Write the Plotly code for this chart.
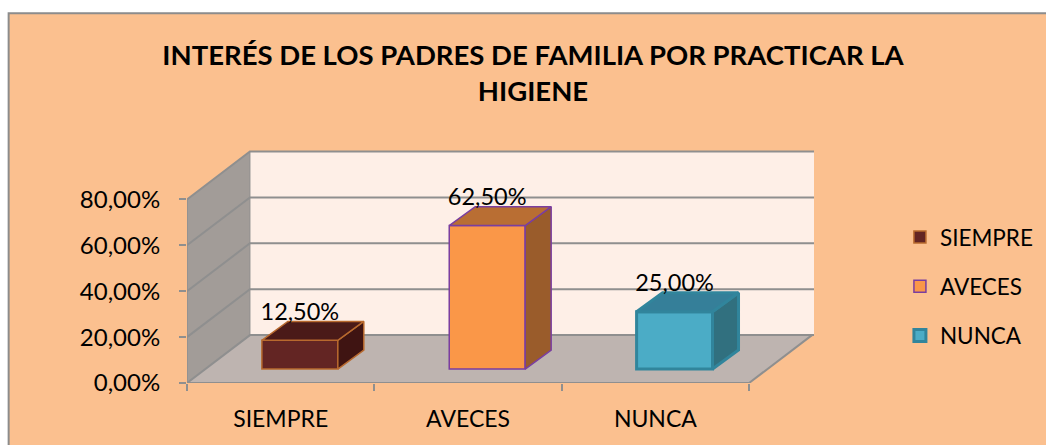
import plotly.graph_objects as go

# ---- data ----
categories = ["SIEMPRE", "AVECES", "NUNCA"]
values = [0.125, 0.625, 0.25]
y_ticks = [0, 0.2, 0.4, 0.6, 0.8]
title_text = "INTERÉS DE LOS PADRES DE FAMILIA POR PRACTICAR LA<br>HIGIENE"

# ---- styling ----
front = ["#632523", "#FA9748", "#4BACC6"]
edge = ["#B8692E", "#7A3EA0", "#31859C"]
edge_w = [1.5, 1.5, 3]
top_c = ["#4A1A18", "#B96E33", "#357F99"]
side_c = ["#3F1412", "#9A5C2B", "#31707F"]
PAPER = "#FBC08F"; WALL = "#FEEFE7"; FLOOR = "#BEB4B0"; SIDE = "#A29C98"; GRID = "#8F8F8F"
FONT = "Lato"

W, H = 1046, 445
PL, PR, PT, PB = 186.5, 814.0, 150.0, 383.5
px_x = 187.5           # pixels per category
px_y = 230.0           # pixels per unit of value
xmin = -0.5
xmax = xmin + (PR - PL) / px_x
ymax = (PB - PT) / px_y
xfront = xmin + len(categories)
dx, dy = 63 / px_x, 48 / px_y          # wall depth
bdx, bdy = 26 / px_x, 19 / px_y        # bar depth
base = 14 / px_y                       # bars stand on the floor
shift = 19.2 / px_x
bw = 76 / px_x
label_gap = 26.5 / px_y

fig = go.Figure()

# bar side and top faces, front faces (bars) and labels
for i, (c, v) in enumerate(zip(categories, values)):
    L, R = i + shift - bw / 2, i + shift + bw / 2
    t = base + v
    fig.add_trace(go.Bar(
        x=[i], y=[v], base=base, width=bw, offset=shift - bw / 2, name=c,
        marker=dict(color=front[i], line=dict(color=edge[i], width=edge_w[i])),
        legendgroup=c, hoverinfo="skip"))
    fig.add_trace(go.Scatter(
        x=[R, R + bdx, R + bdx, R, R], y=[base, base + bdy, t + bdy, t, base],
        mode="lines", fill="toself", fillcolor=side_c[i],
        line=dict(color=edge[i], width=edge_w[i]), showlegend=False, hoverinfo="skip"))
    fig.add_trace(go.Scatter(
        x=[L, L + bdx, R + bdx, R, L], y=[t, t + bdy, t + bdy, t, t],
        mode="lines", fill="toself", fillcolor=top_c[i],
        line=dict(color=edge[i], width=edge_w[i]), showlegend=False, hoverinfo="skip"))
    fig.add_trace(go.Scatter(
        x=[i + shift], y=[t + label_gap], mode="text",
        text=[f"{v*100:.2f}%".replace(".", ",")], textposition="middle center",
        textfont=dict(family=FONT, size=23.5, color="#000000"),
        showlegend=False, hoverinfo="skip"))

# walls, floor and gridlines
def poly(xs, ys, fill, line=None, width=0):
    path = "M" + "L".join(f"{a},{b}" for a, b in zip(xs, ys)) + "Z"
    return dict(type="path", path=path, xref="x", yref="y", layer="below", fillcolor=fill,
                line=dict(color=line or fill, width=width))

sx = (8 - PL) / (PR - PL); ex = (W + 20 - PL) / (PR - PL)
sy = (PB - 13) / (PB - PT); ey = (PB - H - 20) / (PB - PT)
shapes = [dict(type="rect", xref="paper", yref="paper", x0=sx, x1=ex, y0=ey, y1=sy, layer="below",
               fillcolor=PAPER, line=dict(color="#8C8C8C", width=2))]
top = y_ticks[-1]
shapes.append(poly([xmin + dx, xmax, xmax, xmin + dx], [dy, dy, dy + top, dy + top], WALL))
shapes.append(poly([xmin, xmin + dx, xmin + dx, xmin], [0, dy, dy + top, top], SIDE))
shapes.append(poly([xmin, xfront, xfront + dx, xmax, xmin + dx], [0, 0, dy, dy, dy], FLOOR))
for v in y_ticks:
    shapes.append(dict(type="path", xref="x", yref="y", layer="below",
                       path=f"M{xmin},{v}L{xmin + dx},{v + dy}L{xmax},{v + dy}",
                       line=dict(color=GRID, width=2)))
shapes.append(dict(type="path", xref="x", yref="y", layer="below",
                   path=f"M{xmin + dx},{dy}L{xmin + dx},{dy + top}",
                   line=dict(color=GRID, width=1)))
shapes.append(dict(type="path", xref="x", yref="y", layer="below",
                   path=f"M{xmin},0L{xmin},{top}", line=dict(color=GRID, width=1.5)))
shapes.append(dict(type="path", xref="x", yref="y", layer="below",
                   path=f"M{xmin},0L{xfront},0L{xfront + dx},{dy}", line=dict(color=GRID, width=2)))

fig.update_layout(
    width=W, height=H, margin=dict(l=PL, r=W - PR, t=PT, b=H - PB, autoexpand=False),
    paper_bgcolor="#FFFFFF", plot_bgcolor="rgba(0,0,0,0)",
    separators=",.", barmode="overlay", shapes=shapes,
    title=dict(text=f"<b>{title_text}</b>", x=533 / W, xanchor="center", y=1 - 65 / H, yanchor="middle",
               font=dict(family=FONT, size=27.5, color="#000000")),
    xaxis=dict(range=[xmin, xmax], tickmode="array", tickvals=list(range(len(categories))),
               ticktext=categories, showgrid=False, zeroline=False, showline=False,
               ticks="", ticklabelstandoff=20, tickfont=dict(family=FONT, size=23, color="#000000"),
               minor=dict(tickmode="array", tickvals=[xmin + k for k in range(len(categories) + 1)],
                          ticks="outside", ticklen=7, tickwidth=1.5, tickcolor=GRID)),
    yaxis=dict(range=[0, ymax], tickmode="array", tickvals=y_ticks, tickformat=".2%",
               showgrid=False, zeroline=False, showline=False, ticks="outside", ticklen=7,
               tickwidth=1.5, tickcolor=GRID, ticklabelstandoff=14,
               tickfont=dict(family=FONT, size=24, color="#000000")),
    legend=dict(x=(900 - PL) / (PR - PL), y=(PB - 216) / (PB - PT), xanchor="left", yanchor="top",
                font=dict(family=FONT, size=22.5, color="#000000"), bgcolor="rgba(0,0,0,0)",
                traceorder="grouped", tracegroupgap=17, itemwidth=30),
    showlegend=True,
)

fig.write_html("out.html", config={"displayModeBar": False},
               post_script="document.body.style.margin='0';")
